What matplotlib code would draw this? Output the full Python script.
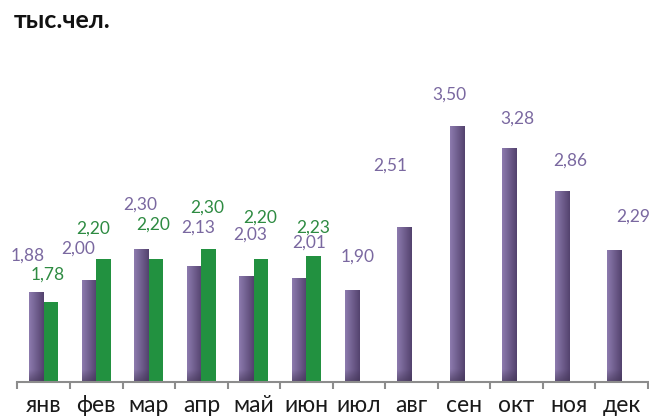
import numpy as np
import matplotlib
matplotlib.use("Agg")
import matplotlib.pyplot as plt
from matplotlib.colors import to_rgb

plt.rcParams['font.family'] = ['Lato', 'DejaVu Sans']

# ---------------- DATA ----------------
months = ["янв", "фев", "мар", "апр", "май", "июн",
          "июл", "авг", "сен", "окт", "ноя", "дек"]
prev_year = [1.88, 2.00, 2.30, 2.13, 2.03, 2.01,
             1.90, 2.51, 3.50, 3.28, 2.86, 2.29]
cur_year = [1.78, 2.20, 2.20, 2.30, 2.20, 2.23]

# label offsets in pixels (dx, dy) from bar top centre, as placed in the original
prev_off = [(-9, 36), (-11, 31), (-1, 44), (4, 39), (4, 42), (10, 36),
            (6, 33), (-14, 62), (-8, 31), (8, 30), (8, 31), (19, 33)]
cur_off = [(-3, 27), (-10, 30), (-3, 34), (-1, 41), (-1, 41), (0, 28)]

purple_txt = "#7A68A0"
green_txt = "#2E8B42"

fig = plt.figure(figsize=(6.49, 4.18), dpi=100)
ax = fig.add_axes([17.5 / 649, 36 / 418, 630.5 / 649, 307.5 / 418])

x = np.arange(len(months))
w = 0.275
base = 1.0


def shade_bar(bar, left, right, bottom_dark):
    # horizontal gradient + darker foot, clipped to the bar
    bx, by = bar.get_x(), bar.get_y()
    bw, bh = bar.get_width(), bar.get_height()
    l, r, d = np.array(to_rgb(left)), np.array(to_rgb(right)), np.array(to_rgb(bottom_dark))
    t = np.linspace(0, 1, 20)
    row = l[None, :] * (1 - t[:, None]) + r[None, :] * t[:, None]
    ny = 200
    img = np.repeat(row[None, :, :], ny, axis=0)
    # vertical darkening at the bottom
    yy = np.linspace(by, by + bh, ny)
    k = np.clip(1 - (yy - by) / 0.12, 0, 1)[:, None, None] * 0.6
    img = img * (1 - k) + d[None, None, :] * k
    im = ax.imshow(img, extent=(bx, bx + bw, by, by + bh), origin="lower",
                   aspect="auto", interpolation="bilinear", zorder=2)
    im.set_clip_path(bar)


bars_p = ax.bar(x - w / 2, np.array(prev_year) - base, w, bottom=base,
                color="none", edgecolor="none", zorder=2)
for b in bars_p:
    shade_bar(b, "#8C7AAD", "#54436F", "#3E3150")

xc = np.arange(len(cur_year))
bars_g = ax.bar(xc + w / 2, np.array(cur_year) - base, w, bottom=base,
                color="#229140", edgecolor="none", zorder=2)

# ---------------- LABELS ----------------
for i, v in enumerate(prev_year):
    ax.annotate(f"{v:.2f}".replace(".", ","), (x[i] - w / 2, v),
                xytext=prev_off[i], textcoords="offset pixels",
                ha="center", va="center", fontsize=12.5, color=purple_txt)
for i, v in enumerate(cur_year):
    ax.annotate(f"{v:.2f}".replace(".", ","), (xc[i] + w / 2, v),
                xytext=cur_off[i], textcoords="offset pixels",
                ha="center", va="center", fontsize=12.5, color=green_txt)

# ---------------- AXES ----------------
ax.set_xlim(-0.5, len(months) - 0.5)
ax.set_ylim(base, 4.0)
for s in ["top", "right", "left"]:
    ax.spines[s].set_visible(False)
ax.spines["bottom"].set_color("#8C8C8C")
ax.spines["bottom"].set_linewidth(1.5)
ax.set_yticks([])
ax.set_xticks(x)
ax.set_xticklabels(months, fontsize=16.5, color="#1A1A1A")
ax.tick_params(axis="x", which="major", length=0, pad=9)
ax.set_xticks(np.arange(-0.5, len(months)), minor=True)
ax.tick_params(axis="x", which="minor", length=5, width=1.5, color="#8C8C8C", direction="out")

fig.text(14 / 649, 1 - 20 / 418, "тыс.чел.", fontsize=18, fontweight="bold",
         ha="left", va="center", color="#111111")

fig.savefig("out.png", dpi=100)
plt.close(fig)
